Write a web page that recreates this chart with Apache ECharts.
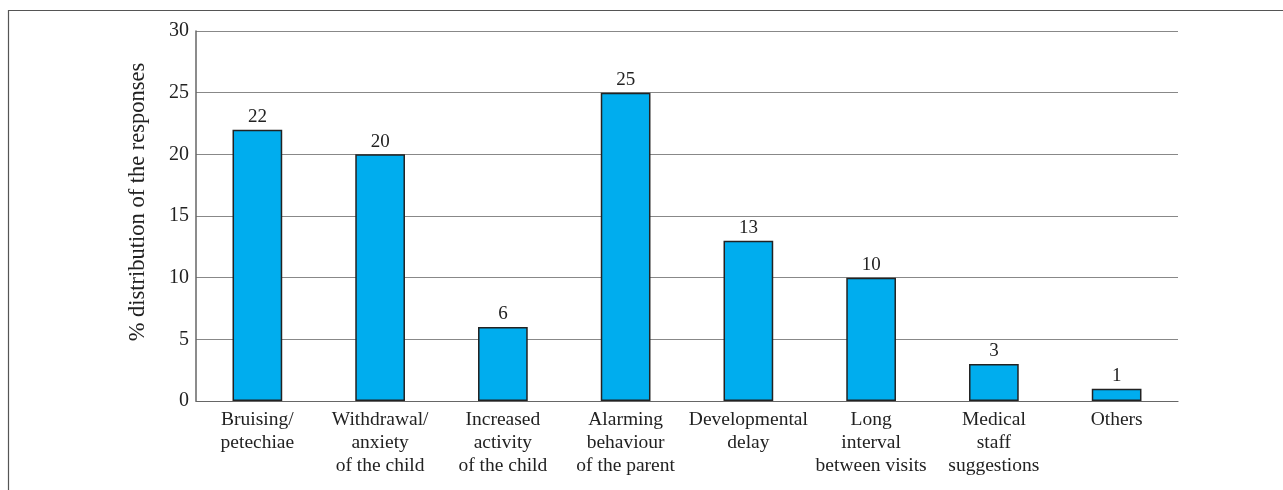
<!DOCTYPE html>
<html><head><meta charset="utf-8">
<script src="https://cdn.jsdelivr.net/npm/echarts@6/dist/echarts.min.js"></script>
<style>html,body{margin:0;padding:0;background:#fff}#c{width:1283px;height:490px}</style>
</head><body><div id="c"></div>
<script>
const categories = ["Bruising/\npetechiae","Withdrawal/\nanxiety\nof the child","Increased\nactivity\nof the child","Alarming\nbehaviour\nof the parent","Developmental\ndelay","Long\ninterval\nbetween visits","Medical\nstaff\nsuggestions","Others"];
const values = [22,20,6,25,13,10,3,1];
const yTicks = [0,5,10,15,20,25,30];
const font = "'Liberation Serif', 'DejaVu Serif', serif";
const chart = echarts.init(document.getElementById('c'));
chart.setOption({
  animation:false,
  backgroundColor:'#fff',
  textStyle:{fontFamily:font},
  graphic:[
    {type:'line',shape:{x1:8,y1:10.5,x2:1283,y2:10.5},style:{stroke:'#555',lineWidth:1.2}},
    {type:'line',shape:{x1:8.5,y1:10,x2:8.5,y2:490},style:{stroke:'#555',lineWidth:1.2}}
  ],
  grid:{left:196,right:105,top:31,bottom:89,containLabel:false},
  xAxis:{type:'category',data:categories,
    axisLine:{lineStyle:{color:'#666',width:1.2}},axisTick:{show:false},
    axisLabel:{color:'#222',fontSize:19.5,lineHeight:23,margin:7,fontFamily:font,interval:0}},
  yAxis:{type:'value',min:yTicks[0],max:yTicks[yTicks.length-1],interval:5,
    name:'% distribution of the responses',nameLocation:'middle',nameGap:46,
    nameTextStyle:{fontSize:22.5,color:'#222',fontFamily:font,padding:[0,0,0,28]},
    axisLine:{show:true,lineStyle:{color:'#666',width:1.5}},axisTick:{show:false},
    axisLabel:{color:'#222',fontSize:20,margin:7,fontFamily:font},
    splitLine:{lineStyle:{color:'#888',width:1}}},
  series:[{type:'bar',data:values,barWidth:'40.5%',
    itemStyle:{color:'#00ADEE',borderColor:'#222',borderWidth:1.5},
    label:{show:true,position:'top',distance:3,color:'#222',fontSize:19,fontFamily:font}}]
});
</script></body></html>
